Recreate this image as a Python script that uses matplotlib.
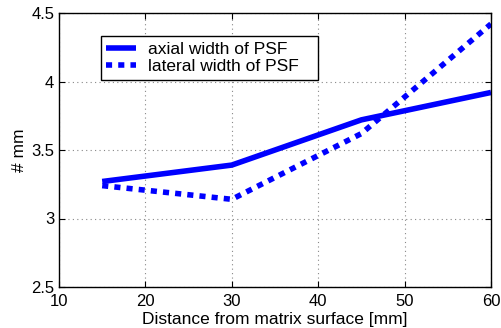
import matplotlib

matplotlib.use("Agg")
import matplotlib.pyplot as plt

distance = [15, 30, 45, 60]
axial_width = [3.27, 3.39, 3.72, 3.92]
lateral_width = [3.24, 3.14, 3.62, 4.42]

plt.rcParams["font.family"] = ["Liberation Sans", "DejaVu Sans"]

fig = plt.figure(figsize=(5.01, 3.28), dpi=100)
ax = fig.add_axes([59 / 501, 1 - 287 / 328, 432 / 501, 274 / 328])
ax.plot(distance, axial_width, color="#0000ff", lw=4, solid_capstyle="butt",
        label="axial width of PSF")
ax.plot(distance, lateral_width, color="#0000ff", lw=4, linestyle=(0, (1.1, 1.1)),
        dash_capstyle="butt", label="lateral width of PSF")

ax.set_xlim(10, 60)
ax.set_ylim(2.5, 4.5)
ax.set_xticks([10, 20, 30, 40, 50, 60])
ax.set_yticks([2.5, 3, 3.5, 4, 4.5])
ax.set_yticklabels(["2.5", "3", "3.5", "4", "4.5"])
ax.tick_params(direction="in", top=True, right=True, labelsize=12, length=4)
ax.tick_params(axis="x", pad=5)
ax.grid(True, linestyle=(0, (1, 3)), color="#888888", lw=0.8)
for s in ax.spines.values():
    s.set_linewidth(1.0)

ax.set_xlabel("Distance from matrix surface [mm]", fontsize=12.5, labelpad=2)
ax.set_ylabel("# mm", fontsize=12.5, labelpad=3)

leg = ax.legend(loc="upper left", bbox_to_anchor=(0.097, 0.915), fontsize=12.5,
                fancybox=False, framealpha=1, edgecolor="black",
                handlelength=1.7, borderpad=0.3, labelspacing=0.15,
                handletextpad=0.7, borderaxespad=0)
leg.get_frame().set_linewidth(1.0)
for t in leg.get_texts():
    t.set_text(t.get_text() + "   ")

fig.savefig("out.png", dpi=100)
